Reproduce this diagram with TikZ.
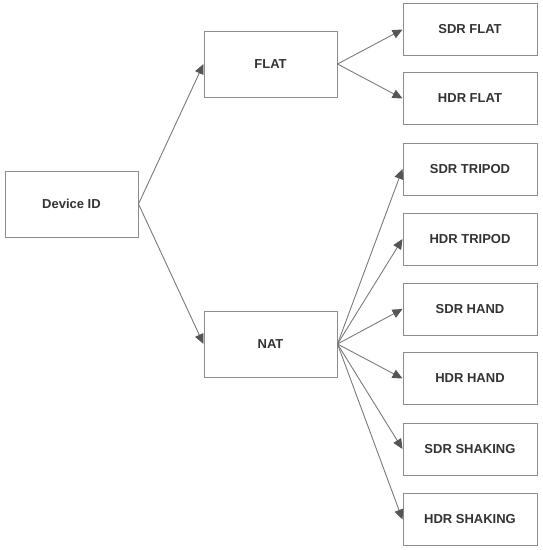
\documentclass[tikz,border=0pt]{standalone}
\usepackage{fontspec}
\setmainfont{Liberation Sans}
\usetikzlibrary{arrows.meta}
\definecolor{dline}{HTML}{7A7A7A}
\definecolor{dtip}{HTML}{555555}
\definecolor{dbox}{HTML}{8C8C8C}
\definecolor{dtext}{HTML}{333333}

\begin{document}
\begin{tikzpicture}[x=1pt, y=-1pt,
    >={Triangle[length=10pt,width=9pt,color=dtip]},
    font=\fontsize{13}{15}\selectfont\bfseries,
    bigbox/.style={draw=dbox, line width=1pt, text=dtext,
      minimum width=133pt, minimum height=66pt, inner sep=0pt},
    smallbox/.style={draw=dbox, line width=1pt, text=dtext,
      minimum width=134pt, minimum height=52pt, inner sep=0pt},
    link/.style={dline, line width=0.9pt, ->}]
  % canvas: 542 x 550, y grows downwards
  \useasboundingbox (0,0) rectangle (542,550);

  % left and middle columns
  \node[bigbox] (devid) at (71.5,204) {Device ID};
  \node[bigbox] (flat) at (270.5,64) {FLAT};
  \node[bigbox] (nat) at (270.5,344) {NAT};

  % right column
  \node[smallbox] (sdrflat) at (470,29.5) {SDR FLAT};
  \node[smallbox] (hdrflat) at (470,98.5) {HDR FLAT};
  \node[smallbox] (sdrtripod) at (470,169) {SDR TRIPOD};
  \node[smallbox] (hdrtripod) at (470,239) {HDR TRIPOD};
  \node[smallbox] (sdrhand) at (470,309) {SDR HAND};
  \node[smallbox] (hdrhand) at (470,378.5) {HDR HAND};
  \node[smallbox] (sdrshaking) at (470,449) {SDR SHAKING};
  \node[smallbox] (hdrshaking) at (470,519.5) {HDR SHAKING};

  % connectors
  \draw[link] (devid.east) -- (flat.west);
  \draw[link] (devid.east) -- (nat.west);
  \draw[link] (flat.east) -- (sdrflat.west);
  \draw[link] (flat.east) -- (hdrflat.west);
  \draw[link] (nat.east) -- (sdrtripod.west);
  \draw[link] (nat.east) -- (hdrtripod.west);
  \draw[link] (nat.east) -- (sdrhand.west);
  \draw[link] (nat.east) -- (hdrhand.west);
  \draw[link] (nat.east) -- (sdrshaking.west);
  \draw[link] (nat.east) -- (hdrshaking.west);
\end{tikzpicture}
\end{document}
